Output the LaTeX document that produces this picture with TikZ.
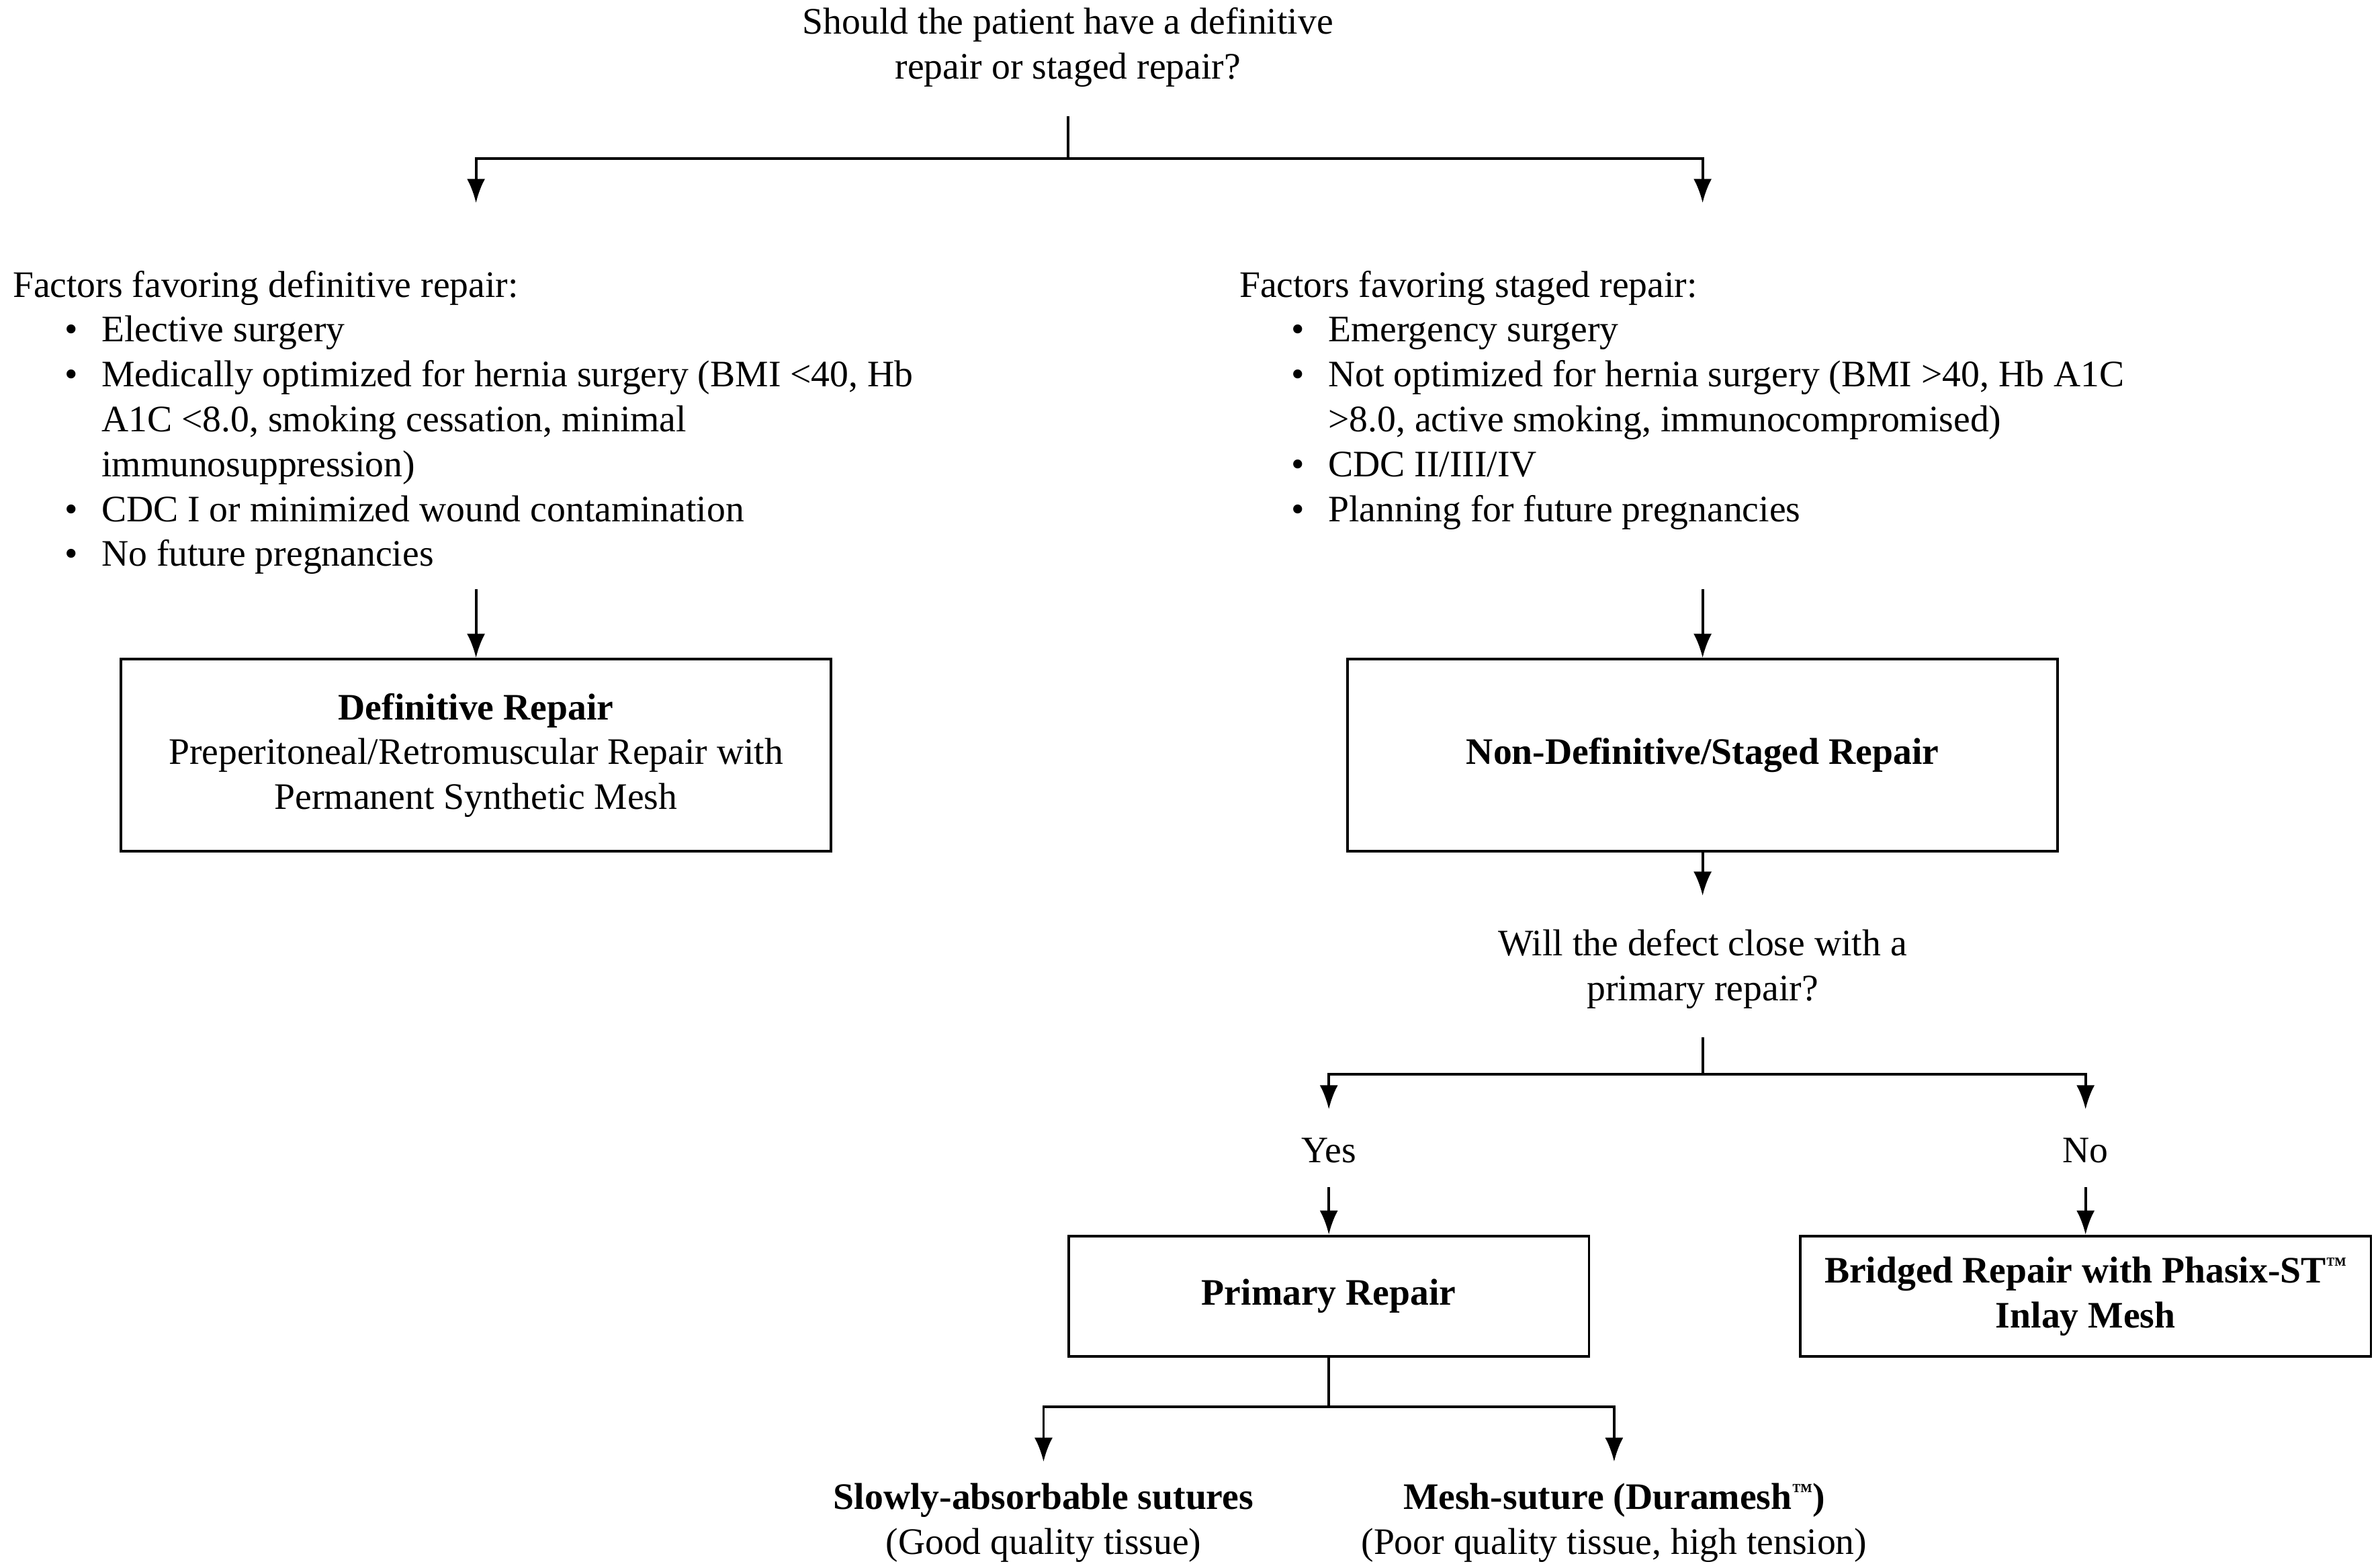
\documentclass[tikz,border=0pt]{standalone}
\usepackage{fontspec}
\setmainfont{Liberation Serif}
\usetikzlibrary{arrows.meta}
\tikzset{
    box/.style={rectangle,draw,line width=0.8pt,align=center,inner sep=2pt},
    txt/.style={align=center,inner sep=0pt},
    factors/.style={align=left,inner sep=0pt,anchor=north west},
    line/.style={line width=0.8pt},
    edge/.style={line width=0.8pt,-{Latex[length=7.4pt,width=5.6pt]}}
}
\newcommand{\bul}{\hspace*{16pt}\makebox[11.3pt][l]{\textbullet}}
\newcommand{\cont}{\hspace*{27.3pt}}
\newcommand{\tmark}{\raisebox{0.3em}{\scalebox{0.55}{™}}}

\begin{document}
\begin{tikzpicture}[x=0.0165cm,y=-0.0165cm,font=\fontsize{11.5}{13.8}\selectfont]
\useasboundingbox (0,0) rectangle (1560,1025);

\node[txt] (q1) at (700,31) {Should the patient have a definitive\\repair or staged repair?};

\node[factors] (deflist) at (8,177) {Factors favoring definitive repair:\\
\bul Elective surgery\\
\bul Medically optimized for hernia surgery (BMI <40, Hb\\
\cont A1C <8.0, smoking cessation, minimal\\
\cont immunosuppression)\\
\bul CDC I or minimized wound contamination\\
\bul No future pregnancies};
\node[factors] (staglist) at (812,177) {Factors favoring staged repair:\\
\bul Emergency surgery\\
\bul Not optimized for hernia surgery (BMI >40, Hb A1C\\
\cont >8.0, active smoking, immunocompromised)\\
\bul CDC II/III/IV\\
\bul Planning for future pregnancies};

\node[box,minimum width=7.6725cm,minimum height=2.079cm] (defbox) at (312,495) {\textbf{Definitive Repair}\\Preperitoneal/Retromuscular Repair with\\Permanent Synthetic Mesh};
\node[box,minimum width=7.6725cm,minimum height=2.079cm] (stagbox) at (1116,495) {\textbf{Non-Definitive/Staged Repair}};

\node[txt] (q2) at (1116,635) {Will the defect close with a\\primary repair?};
\node[txt] (yes) at (871,754) {Yes};
\node[txt] (no) at (1367,754) {No};

\node[box,minimum width=5.6265cm,minimum height=1.3035cm] (primbox) at (871,849.5) {\textbf{Primary Repair}};
\node[box,minimum width=6.171cm,minimum height=1.3035cm] (bridbox) at (1367,849.5) {\textbf{Bridged Repair with Phasix-ST\tmark}\\\textbf{Inlay Mesh}};

\node[txt] (sutures) at (684,998) {\textbf{Slowly-absorbable sutures}\\(Good quality tissue)};
\node[txt] (duramesh) at (1058,998) {\textbf{Mesh-suture (Duramesh\tmark)}\\(Poor quality tissue, high tension)};

% first split
\coordinate (q1out) at (700,76);
\coordinate (q1fork) at (700,104);
\coordinate (defin) at (312,133);
\coordinate (stagin) at (1116,133);
\draw[line] (q1out) -- (q1fork);
\draw[edge] (q1fork) -| (defin);
\draw[edge] (q1fork) -| (stagin);

\coordinate (defout) at (312,386);
\coordinate (stagout) at (1116,386);
\draw[edge] (defout) -- (defbox);
\draw[edge] (stagout) -- (stagbox);

% staged branch
\coordinate (q2in) at (1116,587);
\draw[edge] (stagbox) -- (q2in);
\coordinate (q2out) at (1116,680);
\coordinate (q2fork) at (1116,704);
\coordinate (yesin) at (871,727);
\coordinate (noin) at (1367,727);
\draw[line] (q2out) -- (q2fork);
\draw[edge] (q2fork) -| (yesin);
\draw[edge] (q2fork) -| (noin);

\coordinate (yesout) at (871,778);
\coordinate (noout) at (1367,778);
\draw[edge] (yesout) -- (primbox);
\draw[edge] (noout) -- (bridbox);

% primary repair split
\coordinate (primfork) at (871,922);
\coordinate (sutin) at (684,958);
\coordinate (durin) at (1058,958);
\draw[line] (primbox) -- (primfork);
\draw[edge] (primfork) -| (sutin);
\draw[edge] (primfork) -| (durin);

\end{tikzpicture}
\end{document}
